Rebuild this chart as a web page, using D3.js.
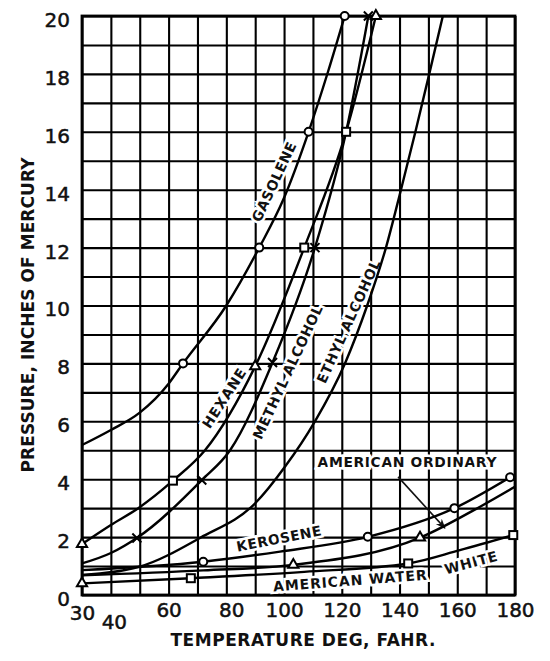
<!DOCTYPE html>
<meta charset="utf-8">
<head>
    <title> Vapor pressure of fuels </title>
    <script src="https://d3js.org/d3.v7.min.js"></script>
    <style>
        body { margin: 0; background: #ffffff; }
        text { font-family: "DejaVu Sans", sans-serif; fill: #111; }
    </style>
</head>
<body>
<div id="my_dataviz"></div>
<script>

// grid and tick values
var tempGrid = d3.range(30, 181, 10);
var presGrid = d3.range(0, 21, 1);
var tempLabels = [30, 40, 60, 80, 100, 120, 140, 160, 180];
var presLabels = [0, 2, 4, 6, 8, 10, 12, 14, 16, 18, 20];

// curves, [temperature deg F, pressure in. Hg]
var gasolene = [[30,5.18],[40,5.7],[50,6.3],[60,7.3],[65,8],[80,10],[91.4,12],[99.7,13.65],[108.5,16],[115.3,18.1],[121,20]];
var hexane = [[30,1.76],[40,2.42],[49.5,3.0],[61.5,3.95],[72.6,5.0],[90,7.9],[107,12],[121.5,16],[131.8,20]];
var methylAlcohol = [[30,1.09],[40,1.45],[49,1.97],[71.5,3.97],[81.3,5.0],[96,8.03],[110.7,12],[121.5,16],[129.2,20]];
var ethylAlcohol = [[30,0.69],[50,0.98],[71,1.98],[90,3.17],[100.3,4.43],[110.7,6],[121.1,8],[128.8,10],[135.3,12],[140.5,14],[145.5,16],[150.3,18],[155,20]];
var kerosene = [[30,0.86],[72,1.15],[98.6,1.5],[129,2.01],[159,3.0],[178.3,4.07]];
var americanOrdinary = [[30,0.68],[72,0.85],[103.2,1.04],[147.1,1.98],[167.9,3.05],[180,3.74]];
var americanWaterWhite = [[30,0.4],[67.7,0.58],[107,0.8],[143,1.09],[160.9,1.55],[179.4,2.07]];

// plotted points (markers)
var gasoleneCircles = [[65,8],[91.4,12],[108.5,16],[121,20]];
var hexaneTriangles = [[30,1.76],[90,7.9],[131.8,20]];
var hexaneSquares = [[61.5,3.95],[107,12],[121.5,16]];
var methylCrosses = [[49,1.97],[71.5,3.97],[96,8.03],[110.7,12],[129.2,20]];
var keroseneCircles = [[72,1.15],[129,2.01],[159,3.0],[178.3,4.07]];
var ordinaryTriangles = [[30,0.4],[103.2,1.04],[147.1,1.98]];
var waterWhiteSquares = [[67.7,0.58],[143,1.09],[179.4,2.07]];

// set dimensions and margins of the graph
var margin = {top: 16, right: 35, bottom: 66, left: 82},
    width = 550 - margin.left - margin.right,
    height = 661 - margin.top - margin.bottom;

var svg = d3.select("#my_dataviz")
    .append("svg")
    .attr("width", width + margin.left + margin.right)
    .attr("height", height + margin.top + margin.bottom)
    .append("g")
    .attr("transform", "translate(" + margin.left + "," + margin.top + ")");

var x = d3.scaleLinear().domain([30, 180]).range([0, width]);
var y = d3.scaleLinear().domain([0, 20]).range([height, 0]);

// grid
var gx = svg.append("g")
    .attr("transform", "translate(0," + height + ")")
    .call(d3.axisBottom(x).tickValues(tempGrid).tickSize(-height).tickFormat(""));
var gy = svg.append("g")
    .call(d3.axisLeft(y).tickValues(presGrid).tickSize(-width).tickFormat(""));
[gx, gy].forEach(function(g) {
    g.select(".domain").remove();
    g.selectAll("line").attr("stroke", "#000").attr("stroke-width", 2.1);
});

// frame
svg.append("rect")
    .attr("width", width).attr("height", height)
    .attr("fill", "none").attr("stroke", "#000").attr("stroke-width", 2.8);

// tick labels
var ax = svg.append("g")
    .attr("transform", "translate(0," + height + ")")
    .call(d3.axisBottom(x).tickValues(tempLabels).tickSize(0).tickPadding(8));
ax.select(".domain").remove();
ax.selectAll("text")
    .style("font-size", "20px")
    .attr("stroke", "#111").attr("stroke-width", 0.5)
    .attr("dy", function(d) { return d === 40 ? "1.32em" : d === 30 ? "0.86em" : "0.71em"; })
    .attr("dx", function(d) { return d === 40 ? 3 : d === 80 ? 5 : 0; });

var ay = svg.append("g")
    .call(d3.axisLeft(y).tickValues(presLabels).tickSize(0).tickPadding(12));
ay.select(".domain").remove();
ay.selectAll("text")
    .style("font-size", "20px")
    .attr("stroke", "#111").attr("stroke-width", 0.5)
    .attr("transform", "translate(0,4)");

// axis titles
svg.append("text")
    .attr("x", 221).attr("y", height + 51)
    .attr("text-anchor", "middle")
    .attr("textLength", 265).attr("lengthAdjust", "spacing")
    .style("font-size", "17px").style("font-weight", "bold")
    .text("TEMPERATURE DEG, FAHR.");

svg.append("text")
    .attr("transform", "translate(-48," + 299 + ") rotate(-90)")
    .attr("text-anchor", "middle")
    .attr("textLength", 315).attr("lengthAdjust", "spacing")
    .style("font-size", "17px").style("font-weight", "bold")
    .text("PRESSURE, INCHES OF MERCURY");

// curve labels, drawn under the curves with a white knock-out
function addLabel(txt, t, p, angle, len) {
    svg.append("text")
        .attr("transform", "translate(" + x(t) + "," + y(p) + ") rotate(" + angle + ")")
        .attr("text-anchor", "middle")
        .attr("dy", "0.36em")
        .attr("textLength", len).attr("lengthAdjust", "spacing")
        .attr("stroke", "white").attr("stroke-width", 5)
        .attr("paint-order", "stroke")
        .style("font-size", "14px").style("font-weight", "bold")
        .text(txt);
}
addLabel("GASOLENE", 96.5, 14.27, -65, 86);
addLabel("HEXANE", 79.2, 6.8, -57, 68);
addLabel("METHYL ALCOHOL", 101.2, 7.7, -65, 146);
addLabel("ETHYL ALCOHOL", 122.3, 9.45, -65.5, 134);
addLabel("KEROSENE", 98.2, 1.95, -11, 86);
addLabel("AMERICAN ORDINARY", 142.6, 4.59, 0, 179);
addLabel("AMERICAN WATER", 122.8, 0.5, -4.4, 154);
addLabel("WHITE", 164.7, 1.12, -15, 54);

// arrow to the American ordinary curve
svg.append("defs").append("marker")
    .attr("id", "arrow")
    .attr("refX", 9).attr("refY", 5)
    .attr("markerWidth", 10).attr("markerHeight", 10)
    .attr("markerUnits", "userSpaceOnUse")
    .attr("orient", "auto")
    .append("path")
    .attr("d", "M 0 1 L 10 5 L 0 9 L 3 5 Z")
    .style("fill", "#111");
svg.append("line")
    .attr("x1", x(139.5)).attr("y1", y(4.08))
    .attr("x2", x(155.7)).attr("y2", y(2.31))
    .attr("stroke", "#111").attr("stroke-width", 1.6)
    .attr("marker-end", "url(#arrow)");

// curves
var line = d3.line()
    .x(function(d) { return x(d[0]); })
    .y(function(d) { return y(d[1]); })
    .curve(d3.curveMonotoneX);

[gasolene, hexane, methylAlcohol, ethylAlcohol, kerosene, americanOrdinary, americanWaterWhite].forEach(function(s) {
    svg.append("path")
        .datum(s)
        .attr("fill", "none")
        .attr("stroke", "#000")
        .attr("stroke-width", 2.4)
        .attr("d", line);
});

// markers
function drawMarks(points, shape) {
    var g = svg.append("g");
    points.forEach(function(d) {
        var cx = x(d[0]), cy = y(d[1]);
        if (shape === "circle") {
            g.append("circle").attr("cx", cx).attr("cy", cy).attr("r", 4)
                .attr("fill", "white").attr("stroke", "#000").attr("stroke-width", 2);
        } else if (shape === "square") {
            g.append("rect").attr("x", cx - 4).attr("y", cy - 4).attr("width", 8).attr("height", 8)
                .attr("fill", "white").attr("stroke", "#000").attr("stroke-width", 2);
        } else if (shape === "triangle") {
            g.append("path").attr("transform", "translate(" + cx + "," + cy + ")")
                .attr("d", d3.symbol().type(d3.symbolTriangle).size(45)())
                .attr("fill", "white").attr("stroke", "#000").attr("stroke-width", 2);
        } else {
            g.append("path")
                .attr("d", "M" + (cx - 4.5) + "," + (cy - 4.5) + "L" + (cx + 4.5) + "," + (cy + 4.5) +
                           "M" + (cx - 4.5) + "," + (cy + 4.5) + "L" + (cx + 4.5) + "," + (cy - 4.5))
                .attr("stroke", "#000").attr("stroke-width", 2);
        }
    });
}
drawMarks(gasoleneCircles, "circle");
drawMarks(hexaneTriangles, "triangle");
drawMarks(hexaneSquares, "square");
drawMarks(methylCrosses, "cross");
drawMarks(keroseneCircles, "circle");
drawMarks(ordinaryTriangles, "triangle");
drawMarks(waterWhiteSquares, "square");

</script>
</body>
</html>
